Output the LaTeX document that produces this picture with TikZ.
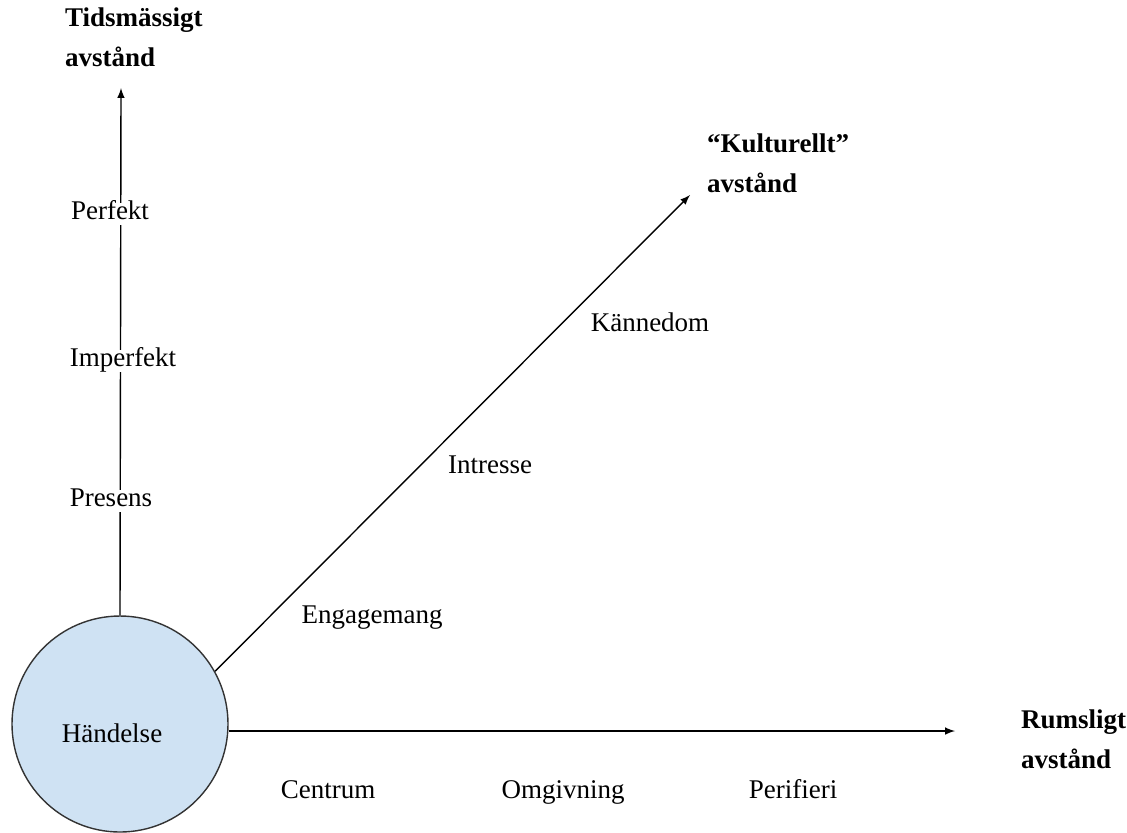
\documentclass[tikz,border=0pt]{standalone}
\usepackage{fontspec}
\setmainfont{Liberation Serif}
\usepackage{xcolor}
\usetikzlibrary{
    arrows,
    calc,
    positioning
}
\definecolor{eventblue}{HTML}{CFE2F3}
\tikzset{
    axis/.style={->, >=latex, line width=0.7pt},
    lbl/.style={font=\fontsize{13.5}{16}\selectfont, fill=white, inner sep=1pt, text height=1.6ex, text depth=0.4ex},
    ttl/.style={font=\fontsize{13.5}{20}\selectfont\bfseries, align=left, anchor=west}
}

\begin{document}
\begin{tikzpicture}[x=0.5pt, y=-0.5pt]
                        \useasboundingbox (0, 0) rectangle (1127, 832);

                        \node[circle, draw=black!80, line width=0.7pt, fill=eventblue, minimum size=108pt, inner sep=0pt] (event) at (120, 724) {};
                        \node[font=\fontsize{13.5}{16}\selectfont] (eventtext) at (112, 733) {Händelse};

                        \coordinate (timeend) at (121, 88);
                        \coordinate (spaceend) at (955, 731);
                        \coordinate (cultureend) at (690, 195);

                        \draw
                        (event.north) edge[axis] (timeend)
                        (event.east |- spaceend) edge[axis] (spaceend)
                        (event.29) edge[axis] (cultureend);

                        \node[ttl] (timetitle) at (58, 37) {Tidsmässigt\\avstånd};
                        \node[ttl] (culturetitle) at (700, 163) {“Kulturellt”\\avstånd};
                        \node[ttl] (spacetitle) at (1014, 739) {Rumsligt\\avstånd};

                        \node[lbl] (perfekt) at (110, 214) {Perfekt};
                        \node[lbl] (imperfekt) at (123, 361) {Imperfekt};
                        \node[lbl] (presens) at (111, 501) {Presens};

                        \node[lbl] (kannedom) at (650, 326) {Kännedom};
                        \node[lbl] (intresse) at (490, 468) {Intresse};
                        \node[lbl] (engagemang) at (372, 618) {Engagemang};

                        \node[lbl] (centrum) at (328, 793) {Centrum};
                        \node[lbl] (omgivning) at (563, 793) {Omgivning};
                        \node[lbl] (perifieri) at (793, 793) {Perifieri};
                    \end{tikzpicture}
\end{document}
